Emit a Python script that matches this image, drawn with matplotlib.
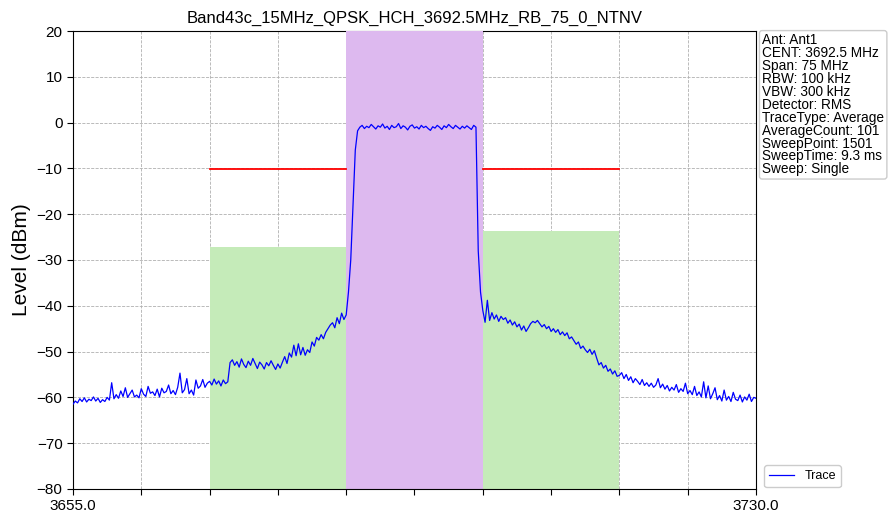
import numpy as np
import matplotlib.pyplot as plt
from matplotlib.patches import Rectangle

plt.rcParams['font.family'] = ['Liberation Sans', 'DejaVu Sans']

title = "Band43c_15MHz_QPSK_HCH_3692.5MHz_RB_75_0_NTNV"
info_lines = ["Ant: Ant1", "CENT: 3692.5 MHz", "Span: 75 MHz", "RBW: 100 kHz",
              "VBW: 300 kHz", "Detector: RMS", "TraceType: Average",
              "AverageCount: 101", "SweepPoint: 1501", "SweepTime: 9.3 ms",
              "Sweep: Single"]

f_start, f_stop = 3655.0, 3730.0
x_ticks = np.arange(3655.0, 3730.1, 7.5)

# trace, 0.25 MHz steps
lvl_low = [-61.5, -60.8, -61.2, -60.3, -60.9, -60.1, -61.0, -60.4,
           -60.7, -59.9, -60.8, -60.2, -61.1, -60.5, -60.9, -60.0,
           -60.6, -56.8, -60.3, -59.4, -60.2, -58.6, -59.8, -57.9,
           -60.0, -59.2, -58.4, -59.9, -59.5, -60.1, -58.1, -59.3,
           -59.8, -57.6, -59.1, -58.8, -59.6, -58.2, -59.9, -58.0,
           -59.0, -58.7, -57.3, -59.2, -58.5, -59.4, -57.8, -54.7,
           -59.0, -58.3, -55.9, -59.2, -58.4, -59.5, -56.2, -58.0,
           -57.5, -56.1, -57.8, -56.9]
lvl_aclr_l = [-56.5, -57.3, -56.0, -57.1, -56.4, -57.5, -56.2, -57.0,
              -56.6, -52.4, -51.8, -53.0, -52.2, -53.4, -51.6, -52.8,
              -53.5, -52.1, -53.0, -51.5, -52.6, -53.7, -52.3, -52.9,
              -53.8, -52.4, -53.1, -52.0, -53.0, -53.9, -52.7, -53.6,
              -52.3, -51.1, -52.6, -50.3, -51.2, -48.6, -50.9, -48.3,
              -50.7, -49.1, -50.8, -49.6, -50.2, -47.9, -48.8, -46.9,
              -47.5, -46.3, -47.2, -45.8, -45.0, -44.2, -43.7, -44.8,
              -42.6, -43.9, -41.6, -43.0]
lvl_chan = [-42.0, -37.0, -30.0, -18.0, -6.0, -1.8,
            -1.0, -0.6, -1.3, -0.8, -1.1, -0.4, -0.9, -1.4, -0.7, -1.0,
            -0.3, -1.2, -0.8, -1.5, -0.6, -1.1, -0.9, -0.2, -1.3, -0.7,
            -1.0, -1.6, -0.8, -0.5, -1.2, -0.9, -1.4, -0.6, -1.1, -0.8,
            -1.3, -1.7, -0.9, -1.2, -0.6, -1.0, -1.5, -0.7, -1.1, -0.4,
            -0.9, -1.3, -0.6, -1.0, -1.4, -0.8, -1.2, -0.7, -1.1, -1.5,
            -0.6, -1.0,
            -28.0, -37.0]
lvl_aclr_r = [-41.0, -43.6, -38.8, -43.2, -41.5, -42.9, -42.0, -43.4,
              -42.3, -43.0, -42.6, -43.8, -43.1, -44.2, -43.5, -44.6,
              -44.0, -45.3, -44.4, -45.6, -44.8, -43.9, -43.4, -43.7,
              -43.2, -43.9, -44.6, -44.1, -45.0, -44.5, -45.6, -45.0,
              -45.8, -45.2, -46.3, -45.7, -46.5, -45.9, -47.2, -46.8,
              -47.6, -48.4, -47.9, -49.3, -48.8, -49.6, -50.2, -49.5,
              -50.6, -49.8, -51.4, -52.9, -52.4, -53.6, -53.0, -54.3,
              -53.8, -54.9, -54.2, -55.4]
lvl_high = [-55.2, -54.6, -55.9, -55.0, -56.3, -55.5, -56.8, -55.9,
            -56.5, -57.2, -56.1, -57.4, -56.8, -57.6, -56.9, -57.8,
            -57.3, -55.9, -57.9, -57.1, -58.2, -57.4, -58.6, -57.8,
            -58.4, -57.2, -58.9, -58.1, -58.7, -56.9, -59.2, -58.5,
            -59.4, -57.6, -59.6, -58.8, -59.9, -56.6, -60.1, -57.5,
            -60.3, -59.2, -57.9, -60.5, -59.6, -60.8, -58.4, -60.6,
            -59.8, -60.9, -58.9, -60.4, -60.7, -59.5, -61.0, -59.9,
            -60.6, -59.3, -60.9, -60.0, -60.2]
levels = np.array(lvl_low + lvl_aclr_l + lvl_chan + lvl_aclr_r + lvl_high)
freqs = np.linspace(f_start, f_stop, len(levels))

# measurement bands: (start, stop, top level)
chan_band = (3685.0, 3700.0, 20.0)
adj_bands = [(3670.0, 3685.0, -27.1), (3700.0, 3715.0, -23.7)]
limit_level = -10.2

fig = plt.figure(figsize=(8.91, 5.17), dpi=100)
ax = fig.add_axes([0.0819, 0.0542, 0.7666, 0.8858])
ax.set_axisbelow(True)
ax.grid(True, linestyle='--', linewidth=0.6, color='#b0b0b0')

ymin = -80
for lo, hi, top in adj_bands:
    ax.add_patch(Rectangle((lo, ymin), hi - lo, top - ymin, facecolor='#c5ebb9',
                           edgecolor='none', zorder=1))
    ax.plot([lo, hi], [limit_level, limit_level], color='red', linewidth=1.3, zorder=2)
lo, hi, top = chan_band
ax.add_patch(Rectangle((lo, ymin), hi - lo, top - ymin, facecolor='#ddb9ef',
                       edgecolor='none', zorder=1))
ax.spines['top'].set_zorder(0.9)

ax.plot(freqs, levels, color='blue', linewidth=0.9, label='Trace', zorder=3)

ax.set_xlim(f_start, f_stop)
ax.set_ylim(-80, 20)
ax.set_xticks(x_ticks)
ax.set_xticklabels(["3655.0"] + [""] * (len(x_ticks) - 2) + ["3730.0"])
ax.set_yticks(np.arange(-80, 21, 10))
ax.tick_params(labelsize=11, length=4)
ax.set_ylabel("Level (dBm)", fontsize=15)
ax.set_xlabel("Frequency (MHz)", fontsize=15, labelpad=4)
ax.set_title(title, fontsize=12)

ax.text(1.009, 0.995, "\n".join(info_lines), transform=ax.transAxes, va='top', ha='left',
        fontsize=9.8, linespacing=0.9,
        bbox=dict(boxstyle='round,pad=0.2', facecolor='white', edgecolor='#cccccc'))
ax.legend(loc='lower left', bbox_to_anchor=(1.003, -0.01), fontsize=9, framealpha=1,
          handlelength=2.0)

fig.savefig("out.png", dpi=100)
